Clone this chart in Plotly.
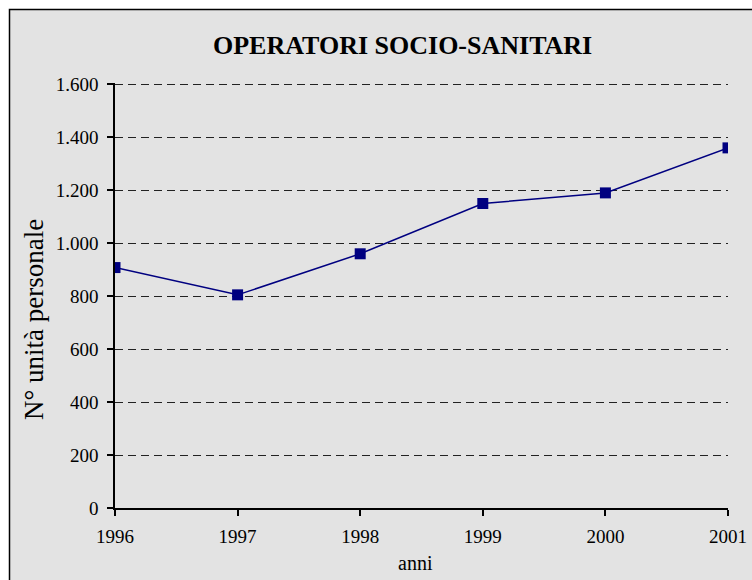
import plotly.graph_objects as go

years = [1996, 1997, 1998, 1999, 2000, 2001]
values = [908, 805, 960, 1150, 1190, 1360]
y_ticks = [0, 200, 400, 600, 800, 1000, 1200, 1400, 1600]
y_max = 1605  # slightly above 1600 so the top dashed gridline is drawn

W, H = 752, 580
L, T = 115, 83
pw, ph = 613, 425
R, B = W - L - pw, H - T - ph

def px_x(p):  # window pixel -> paper x
    return (p - L) / pw

def px_y(p):  # window pixel -> paper y
    return 1 - (p - T) / ph

font_family = "Liberation Serif"

fig = go.Figure()
fig.add_trace(go.Scatter(
    x=years, y=values, mode="lines+markers",
    line=dict(color="#000080", width=1.5),
    marker=dict(symbol="square", size=11, color="#000080"),
    showlegend=False, hoverinfo="x+y",
))

fig.update_layout(
    width=W, height=H,
    margin=dict(l=L, r=R, t=T, b=B, autoexpand=False),
    paper_bgcolor="white",
    plot_bgcolor="rgba(0,0,0,0)",
    separators=",.",
    font=dict(family=font_family, size=19, color="black"),
    xaxis=dict(range=[1996, 2001], tickvals=years, ticktext=[str(y) for y in years],
               automargin=False,
               showgrid=False, zeroline=False, showline=True, linecolor="black",
               linewidth=1.5, ticks="outside", ticklen=6, tickcolor="black",
               tickwidth=1.5, ticklabelstandoff=4),
    yaxis=dict(range=[0, y_max], tickvals=y_ticks, separatethousands=True,
               tickformat=",d", automargin=False,
               showgrid=True, gridcolor="#222222", griddash="8px,5px", gridwidth=1,
               zeroline=False, showline=True, linecolor="black", linewidth=1.5,
               ticks="outside", ticklen=6, tickcolor="black", tickwidth=1.5,
               ticklabelstandoff=5),
    annotations=[
        dict(text="<b>OPERATORI SOCIO-SANITARI</b>", xref="paper", yref="paper",
             x=px_x(402), y=px_y(46), xanchor="center", yanchor="middle",
             showarrow=False, font=dict(family=font_family, size=26)),
        dict(text="anni", xref="paper", yref="paper",
             x=px_x(415), y=px_y(563), xanchor="center", yanchor="middle",
             showarrow=False, font=dict(family=font_family, size=20)),
        dict(text="N° unità personale", xref="paper", yref="paper",
             x=px_x(34), y=px_y(320), xanchor="center", yanchor="middle",
             textangle=-90, showarrow=False,
             font=dict(family=font_family, size=27)),
    ],
    shapes=[dict(type="rect", xref="paper", yref="paper",
                 x0=px_x(9.5), x1=px_x(770), y0=px_y(600), y1=px_y(9.5),
                 line=dict(color="black", width=1.5), fillcolor="#e3e3e3",
                 layer="below")],
)

fig.write_html(
    "out.html",
    config={"displayModeBar": False},
    post_script="document.body.style.margin='0';document.body.style.overflow='hidden';",
)
